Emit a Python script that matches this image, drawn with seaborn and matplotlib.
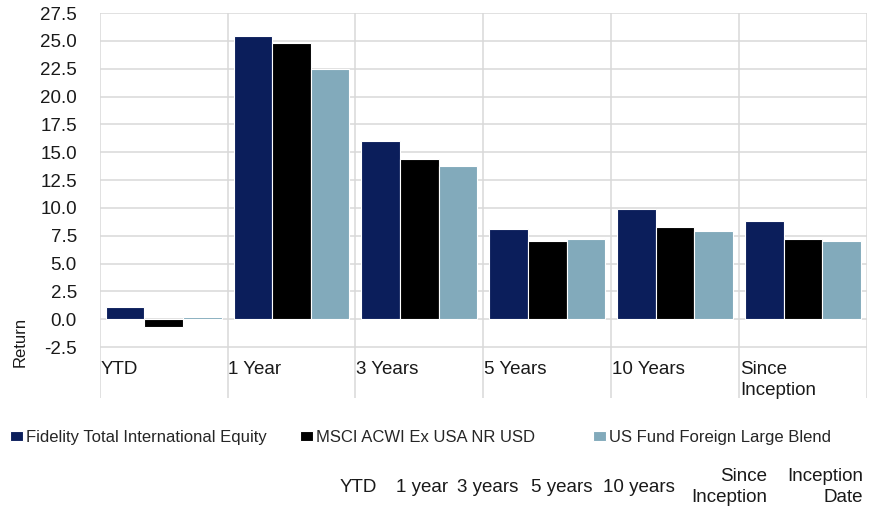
import numpy as np
import pandas as pd
import matplotlib
matplotlib.use("Agg")
import matplotlib.pyplot as plt
import seaborn as sns

# ---- data ----
categories = ["YTD", "1 Year", "3 Years", "5 Years", "10 Years", "Since\nInception"]
series_names = ["Fidelity Total International Equity", "MSCI ACWI Ex USA NR USD", "US Fund Foreign Large Blend"]
fidelity = [1.1, 25.4, 16.0, 8.1, 9.9, 8.8]
msci = [-0.7, 24.8, 14.4, 7.0, 8.3, 7.2]
us_fund = [0.2, 22.5, 13.8, 7.2, 7.9, 7.0]
header_labels = ["YTD", "1 year", "3 years", "5 years", "10 years", "Since\nInception", "Inception\nDate"]
y_ticks = [-2.5, 0.0, 2.5, 5.0, 7.5, 10.0, 12.5, 15.0, 17.5, 20.0, 22.5, 25.0, 27.5]
colors = ["#0b1e5b", "#000000", "#82aabb"]

rows = []
for name, vals in zip(series_names, [fidelity, msci, us_fund]):
    for c, v in zip(categories, vals):
        rows.append({"Period": c, "Return": v, "Series": name})
df = pd.DataFrame(rows)

sns.set_style("white")
plt.rcParams["font.family"] = ["Liberation Sans", "DejaVu Sans"]

W, H = 879, 512
fig = plt.figure(figsize=(W / 100, H / 100), dpi=100)
left, right, top, bottom = 99.7, 867, 13, 398
ax = fig.add_axes([left / W, 1 - bottom / H, (right - left) / W, (bottom - top) / H])

sns.barplot(data=df, x="Period", y="Return", hue="Series", order=categories,
            hue_order=series_names, palette=colors, saturation=1, width=0.906, gap=0,
            edgecolor="white", linewidth=0.8, ax=ax, legend=True)

grid_c = "#d9d9d9"
ax.set_ylim(-7.08, 27.5)
ax.set_xlim(-0.5, len(categories) - 0.5)
ax.set_yticks(y_ticks)
ax.set_yticklabels([f"{t:.1f}" for t in y_ticks], fontsize=13.5, color="#1a1a1a")
ax.tick_params(axis="y", length=9.4, width=1.1, color=grid_c, pad=7)
ax.yaxis.grid(True, color=grid_c, lw=1.1)
ax.set_xticks(np.arange(-0.5, len(categories)), minor=True)
ax.set_xticks(range(len(categories)))
ax.set_xticklabels([])
ax.tick_params(axis="x", which="both", length=0)
ax.xaxis.grid(True, which="minor", color=grid_c, lw=1.1)
ax.xaxis.grid(False, which="major")
ax.set_axisbelow(True)
for s in ax.spines.values():
    s.set_visible(False)
ax.set_xlabel("")
ax.set_ylabel("")

for i, cat in enumerate(categories):
    ax.text(i - 0.5 + 0.006, -3.75, cat, ha="left", va="top", fontsize=13.5,
            color="#1a1a1a", linespacing=1.35)

fig.text(20 / W, 1 - 342 / H, "Return", rotation=90, ha="center", va="center",
         fontsize=12, color="#1a1a1a")

handles, labels = ax.get_legend_handles_labels()
ax.get_legend().remove()
leg_x = [10, 300, 593]
for h, l, x in zip(handles, labels, leg_x):
    fig.legend([h], [l], loc="upper left", bbox_to_anchor=(x / W, 1 - 430 / H),
               frameon=False, fontsize=12, handlelength=0.8, handleheight=0.5,
               handletextpad=0.15, borderpad=0, borderaxespad=0)

header_right = [377, 448, 518, 593, 675, 767, 863]
for lab, xr in zip(header_labels, header_right):
    fig.text(xr / W, 1 - 487 / H, lab, ha="right", va="center", fontsize=13.5,
             multialignment="right", color="#1a1a1a", linespacing=1.35)

fig.savefig("out.png", dpi=100)
